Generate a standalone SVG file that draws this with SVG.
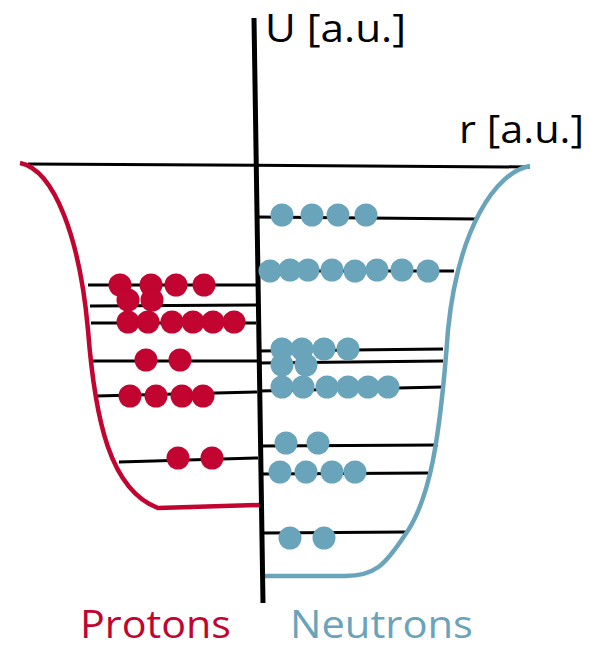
<svg xmlns="http://www.w3.org/2000/svg" width="590" height="650" viewBox="0 0 590 650">
<style>
.lvl{stroke:#000;stroke-width:3;fill:none}
.p{fill:#C10430}
.n{fill:#69A4BA}
.lbl{font-family:"Open Sans","Liberation Sans",sans-serif;font-size:39px}
</style>
<rect width="590" height="650" fill="#fff"/>
<g id="connectors">
<line class="lvl" x1="28" y1="164" x2="530" y2="167"/>
<line class="lvl" x1="88" y1="285" x2="256" y2="285"/>
<line class="lvl" x1="90" y1="306" x2="256" y2="305"/>
<line class="lvl" x1="91" y1="323" x2="256" y2="323"/>
<line class="lvl" x1="90" y1="361" x2="257" y2="361"/>
<line class="lvl" x1="96" y1="396" x2="257" y2="392"/>
<line class="lvl" x1="119" y1="462" x2="258" y2="458"/>
<line class="lvl" x1="258" y1="217" x2="476" y2="219"/>
<line class="lvl" x1="258" y1="271" x2="454" y2="271"/>
<line class="lvl" x1="259" y1="351" x2="443" y2="349"/>
<line class="lvl" x1="259" y1="363" x2="443" y2="361"/>
<line class="lvl" x1="259" y1="391" x2="443" y2="387"/>
<line class="lvl" x1="260" y1="446" x2="438" y2="445"/>
<line class="lvl" x1="261" y1="474" x2="428" y2="473"/>
<line class="lvl" x1="264" y1="533" x2="407" y2="532"/>
</g>
<g id="proton-well">
<path d="M20,163 C55,170 80,240 88,330 C95,420 110,490 158,508 L260,505" fill="none" stroke="#C10430" stroke-width="4.5"/>
</g>
<g id="neutron-well">
<path d="M530,166 C495,172 458,230 448,330 C440,440 430,500 405,535 C385,565 375,576 345,576 L262,576" fill="none" stroke="#69A4BA" stroke-width="4.5"/>
</g>
<g id="axis">
<line x1="254" y1="18" x2="263" y2="603" stroke="#000" stroke-width="5"/>
</g>
<g id="protons">
<circle class="p" cx="120" cy="285" r="11.5"/>
<circle class="p" cx="151" cy="285" r="11.5"/>
<circle class="p" cx="176" cy="285" r="11.5"/>
<circle class="p" cx="204" cy="285" r="11.5"/>
<circle class="p" cx="128" cy="300" r="11.5"/>
<circle class="p" cx="152" cy="300" r="11.5"/>
<circle class="p" cx="128" cy="322" r="11.5"/>
<circle class="p" cx="148" cy="322" r="11.5"/>
<circle class="p" cx="172" cy="322" r="11.5"/>
<circle class="p" cx="193" cy="322" r="11.5"/>
<circle class="p" cx="213" cy="322" r="11.5"/>
<circle class="p" cx="234" cy="322" r="11.5"/>
<circle class="p" cx="146" cy="360" r="11.5"/>
<circle class="p" cx="180" cy="360" r="11.5"/>
<circle class="p" cx="130" cy="396" r="11.5"/>
<circle class="p" cx="156" cy="396" r="11.5"/>
<circle class="p" cx="182" cy="396" r="11.5"/>
<circle class="p" cx="203" cy="396" r="11.5"/>
<circle class="p" cx="178" cy="458" r="11.5"/>
<circle class="p" cx="212" cy="458" r="11.5"/>
</g>
<g id="neutrons">
<circle class="n" cx="282" cy="215" r="11.5"/>
<circle class="n" cx="312" cy="215" r="11.5"/>
<circle class="n" cx="338" cy="215" r="11.5"/>
<circle class="n" cx="366" cy="215" r="11.5"/>
<circle class="n" cx="270" cy="271" r="11.5"/>
<circle class="n" cx="290" cy="270" r="11.5"/>
<circle class="n" cx="308" cy="270" r="11.5"/>
<circle class="n" cx="332" cy="270" r="11.5"/>
<circle class="n" cx="355" cy="271" r="11.5"/>
<circle class="n" cx="377" cy="270" r="11.5"/>
<circle class="n" cx="402" cy="270" r="11.5"/>
<circle class="n" cx="428" cy="271" r="11.5"/>
<circle class="n" cx="282" cy="349" r="11.5"/>
<circle class="n" cx="302" cy="349" r="11.5"/>
<circle class="n" cx="324" cy="349" r="11.5"/>
<circle class="n" cx="348" cy="349" r="11.5"/>
<circle class="n" cx="282" cy="365" r="11.5"/>
<circle class="n" cx="306" cy="365" r="11.5"/>
<circle class="n" cx="282" cy="387" r="11.5"/>
<circle class="n" cx="303" cy="387" r="11.5"/>
<circle class="n" cx="327" cy="387" r="11.5"/>
<circle class="n" cx="348" cy="387" r="11.5"/>
<circle class="n" cx="368" cy="387" r="11.5"/>
<circle class="n" cx="388" cy="387" r="11.5"/>
<circle class="n" cx="286" cy="443" r="11.5"/>
<circle class="n" cx="318" cy="443" r="11.5"/>
<circle class="n" cx="280" cy="472" r="11.5"/>
<circle class="n" cx="306" cy="472" r="11.5"/>
<circle class="n" cx="332" cy="472" r="11.5"/>
<circle class="n" cx="355" cy="472" r="11.5"/>
<circle class="n" cx="290" cy="538" r="11.5"/>
<circle class="n" cx="324" cy="538" r="11.5"/>
</g>
<g id="labels">
<text class="lbl" x="265" y="42" fill="#000" textLength="141" lengthAdjust="spacingAndGlyphs">U [a.u.]</text>
<text class="lbl" x="459" y="143" fill="#000" textLength="125" lengthAdjust="spacingAndGlyphs">r [a.u.]</text>
<text class="lbl" x="80" y="638" fill="#C10430" textLength="151" lengthAdjust="spacingAndGlyphs">Protons</text>
<text class="lbl" x="290" y="638" fill="#69A4BA" textLength="183" lengthAdjust="spacingAndGlyphs">Neutrons</text>
</g>
</svg>
